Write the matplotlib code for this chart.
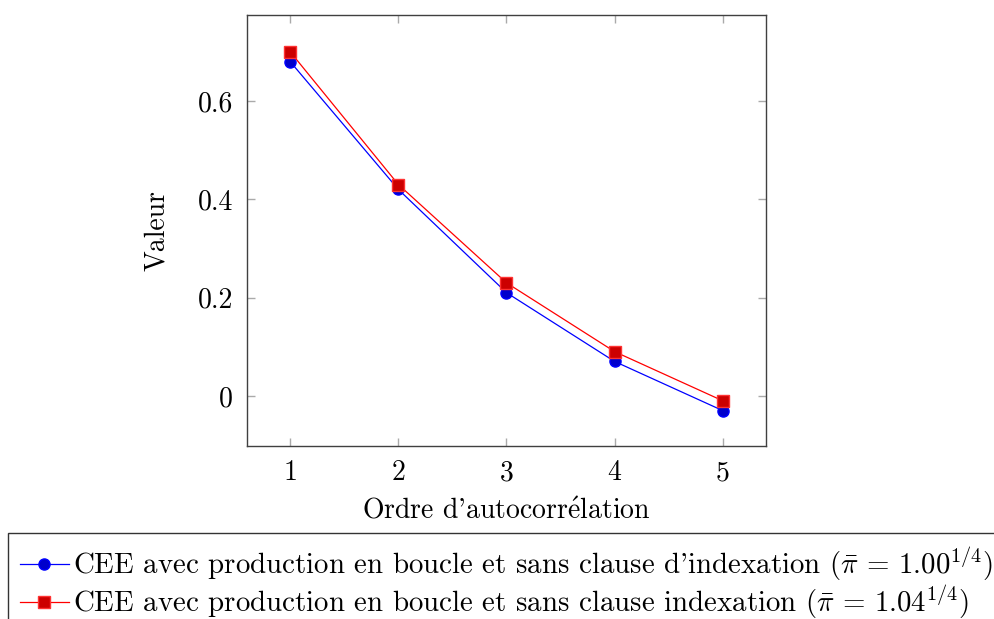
import numpy as np
import matplotlib
matplotlib.use("Agg")
import matplotlib.pyplot as plt

# data
ordre = [1, 2, 3, 4, 5]
cee_100 = [0.68, 0.42, 0.21, 0.07, -0.03]
cee_104 = [0.70, 0.43, 0.23, 0.09, -0.01]
yticks = [0, 0.2, 0.4, 0.6]
ytick_labels = ["0", "0.2", "0.4", "0.6"]
label_100 = r"CEE avec production en boucle et sans clause d'indexation ($\bar{\pi}\,=\,1.00^{1/4}$)"
label_104 = r"CEE avec production en boucle et sans clause indexation ($\bar{\pi}\,=\,1.04^{1/4}$)"

plt.rcParams['font.family'] = ['cmr10', 'DejaVu Serif']
plt.rcParams['mathtext.fontset'] = 'cm'
plt.rcParams['axes.formatter.use_mathtext'] = True

fig = plt.figure(figsize=(9.94, 6.19), dpi=100)
ax = fig.add_axes([247/994, 1-446/619, (766-247)/994, (446-15)/619])

ax.plot(ordre, cee_100, color='#0000ff', lw=0.9, marker='o', ms=8,
        mfc='#0000cc', mec='#0000ff', label=label_100)
ax.plot(ordre, cee_104, color='#ff0000', lw=0.9, marker='s', ms=8,
        mfc='#cc0000', mec='#ff3333', label=label_104)

ax.set_xlim(0.6, 5.4)
ax.set_ylim(-0.102, 0.775)
ax.set_xticks(ordre)
ax.set_xticklabels([str(o) for o in ordre])
ax.set_yticks(yticks)
ax.set_yticklabels(ytick_labels)
ax.tick_params(direction='in', length=6, width=1, color='#aaaaaa',
               top=True, right=True, labelsize=20, pad=10)
for s in ax.spines.values():
    s.set_color('#404040')
    s.set_linewidth(1)

ax.set_xlabel(r"Ordre d'autocorr$\acute{\mathrm{e}}$lation", fontsize=20, labelpad=8)
ax.set_ylabel("Valeur", fontsize=20, labelpad=20)

leg = fig.legend(loc='upper left', bbox_to_anchor=(8/994, 1-533/619),
                 fontsize=20.8, frameon=True, fancybox=False, edgecolor='black',
                 handlelength=1.7, handletextpad=0.15, borderpad=0.4,
                 labelspacing=0.0, borderaxespad=0)
leg.get_frame().set_linewidth(1)

fig.savefig("out.png", dpi=100)
